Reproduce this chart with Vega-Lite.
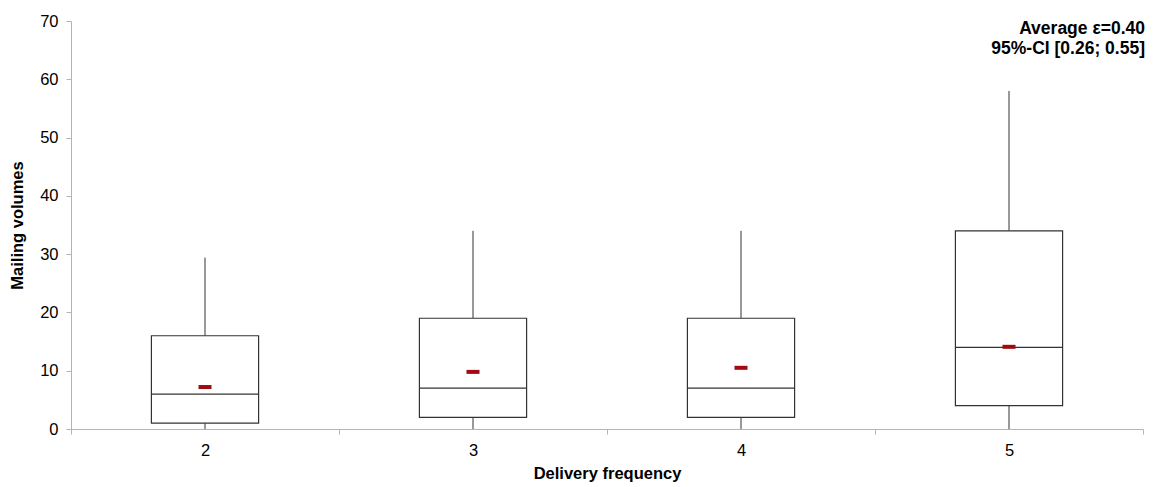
{
  "$schema": "https://vega.github.io/schema/vega-lite/v6.json",
  "width": 1072,
  "height": 408,
  "autosize": {"type": "none"},
  "padding": {"left": 71, "top": 21, "right": 11, "bottom": 58},
  "background": "white",
  "config": {
    "view": {"stroke": null},
    "font": "Liberation Sans",
    "axis": {
      "grid": false,
      "domainColor": "#b4b4b4",
      "tickColor": "#b4b4b4",
      "labelColor": "#000000",
      "labelFont": "Liberation Sans",
      "labelFontSize": 16.5,
      "titleFont": "Liberation Sans",
      "titleFontSize": 16.5,
      "titleFontWeight": "bold",
      "titleColor": "#000000"
    }
  },
  "datasets": {
    "boxes": [
      {"freq": "2", "low": 0, "q1": 1, "median": 6, "q3": 16, "high": 29.4, "mean": 7.2},
      {"freq": "3", "low": 0, "q1": 2, "median": 7, "q3": 19, "high": 34, "mean": 9.8},
      {"freq": "4", "low": 0, "q1": 2, "median": 7, "q3": 19, "high": 34, "mean": 10.5},
      {"freq": "5", "low": 0, "q1": 4, "median": 14, "q3": 34, "high": 58, "mean": 14.1}
    ],
    "note": [
      {"freq": "5", "y": 70, "label": "Average ε=0.40\n95%-CI [0.26; 0.55]"}
    ]
  },
  "data": {"name": "boxes"},
  "encoding": {
    "x": {
      "field": "freq",
      "type": "nominal",
      "sort": ["2", "3", "4", "5"],
      "scale": {"paddingInner": 0, "paddingOuter": 0},
      "axis": {
        "title": "Delivery frequency",
        "labelAngle": 0,
        "tickBand": "extent",
        "tickSize": 5,
        "labelPadding": 8,
        "titlePadding": 7
      }
    }
  },
  "layer": [
    {
      "mark": {"type": "rule", "color": "#333333", "strokeWidth": 1},
      "encoding": {
        "y": {
          "field": "low",
          "type": "quantitative",
          "scale": {"domain": [0, 70], "nice": false},
          "axis": {
            "title": "Mailing volumes",
            "values": [0, 10, 20, 30, 40, 50, 60, 70],
            "tickSize": 5,
            "labelPadding": 8,
            "titlePadding": 14
          }
        },
        "y2": {"field": "q1"}
      }
    },
    {
      "mark": {"type": "rule", "color": "#333333", "strokeWidth": 1},
      "encoding": {
        "y": {"field": "q3", "type": "quantitative"},
        "y2": {"field": "high"}
      }
    },
    {
      "mark": {"type": "bar", "fill": "white", "stroke": "#333333", "strokeWidth": 1.2, "width": {"band": 0.4}},
      "encoding": {
        "y": {"field": "q1", "type": "quantitative"},
        "y2": {"field": "q3"}
      }
    },
    {
      "mark": {"type": "tick", "color": "#333333", "size": 107, "thickness": 1.2, "opacity": 1},
      "encoding": {
        "y": {"field": "median", "type": "quantitative"}
      }
    },
    {
      "mark": {"type": "tick", "color": "#9e0b10", "size": 13, "thickness": 4, "opacity": 1},
      "encoding": {
        "y": {"field": "mean", "type": "quantitative"}
      }
    },
    {
      "data": {"name": "note"},
      "mark": {"type": "text", "align": "right", "baseline": "top", "fontWeight": "bold", "fontSize": 17.5, "lineBreak": "\n", "lineHeight": 20, "dx": 2, "dy": -1, "color": "#000000"},
      "encoding": {
        "x": {"field": "freq", "type": "nominal", "bandPosition": 1},
        "y": {"field": "y", "type": "quantitative"},
        "text": {"field": "label"}
      }
    }
  ]
}
